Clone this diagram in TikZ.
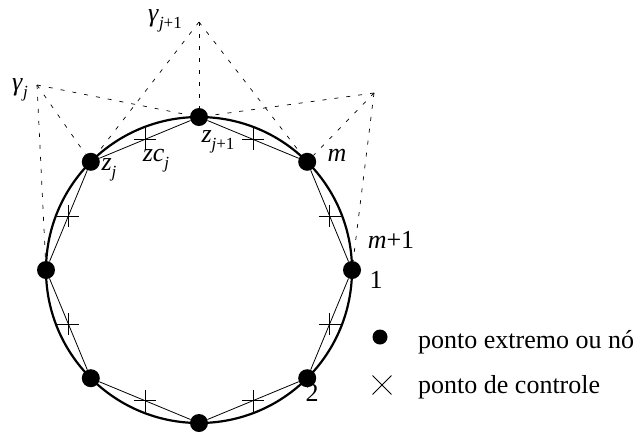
\documentclass[tikz,border=0pt]{standalone}
\usepackage{fontspec}
\setmainfont{LiberationSerif}[Extension=.ttf,UprightFont=*-Regular,ItalicFont=*-Italic,BoldFont=*-Bold,BoldItalicFont=*-BoldItalic]
\usetikzlibrary{calc,shapes.misc}
\newcommand\lsub[1]{\raisebox{-0.28em}{\fontsize{17}{17}\selectfont #1}}
\begin{document}
\begin{tikzpicture}[x=1pt,y=-1pt,
  nd/.style={circle,fill=black,inner sep=0pt,minimum size=18pt},
  chord/.style={line width=0.8pt},
  ctrl/.style={line width=0.7pt,dash pattern=on 4pt off 8pt},
  lab/.style={inner sep=0pt,font=\fontsize{26}{30}\selectfont},
  plusmark/.pic={\draw[line width=0.8pt] (-11,0)--(11,0) (0,-11)--(0,11);}
]
\useasboundingbox (0,0) rectangle (637,432);
\coordinate (c) at (199,270);
\draw[line width=2.2pt] (c) circle[radius=153];
% nodes
\node[nd] (n1) at (352,270) {};
\node[nd] (n2) at (307.2,378.2) {};
\node[nd] (n3) at (199,423) {};
\node[nd] (n4) at (90.8,378.2) {};
\node[nd] (n5) at (46,270) {};
\node[nd] (n6) at (90.8,161.8) {};
\node[nd] (n7) at (199,117) {};
\node[nd] (n8) at (307.2,161.8) {};
% chords and control marks
\foreach \i/\j in {1/2,2/3,3/4,4/5,5/6,6/7,7/8,8/1}{
  \draw[chord] (n\i) -- (n\j);
  \pic at ($(n\i)!0.5!(n\j)$) {plusmark};
}
% control polygon apexes
\coordinate (g1) at (37,85);
\coordinate (g2) at (199,22);
\coordinate (g3) at (374,93);
\draw[ctrl] (g1) -- (n5);
\draw[ctrl] (g1) -- (n6);
\draw[ctrl] (g1) -- (n7);
\draw[ctrl] (g2) -- (n6);
\draw[ctrl] (g2) -- (n7);
\draw[ctrl] (g2) -- (n8);
\draw[ctrl] (g3) -- (n7);
\draw[ctrl] (g3) -- (n8);
\draw[ctrl] (g3) -- (n1);
% labels
\node[lab] (lg2) at (165,21) {\textit{γ}\lsub{\textit{j}+1}};
\node[lab] (lg1) at (20,90) {\textit{γ}\lsub{\textit{j}}};
\node[lab] (lz) at (109,170) {\textit{z}\lsub{\textit{j}}};
\node[lab] (lzc) at (156,161) {\textit{zc}\lsub{\textit{j}}};
\node[lab] (lz1) at (218,142) {\textit{z}\lsub{\textit{j}+1}};
\node[lab] (lm) at (337,155) {\textit{m}};
\node[lab] (lm1) at (391,240) {\textit{m}+1};
\node[lab] (l1) at (376,280) {1};
\node[lab] (l2) at (312,393) {2};
% legend
\node[circle,fill=black,inner sep=0pt,minimum size=15pt] (lb) at (380,337) {};
\node[lab,anchor=base west] (lt1) at (418,348) {ponto extremo ou nó};
\node[draw,cross out,inner sep=0pt,minimum size=18pt,line width=0.9pt] (lx) at (382,385) {};
\node[lab,anchor=base west] (lt2) at (418,393) {ponto de controle};
\end{tikzpicture}
\end{document}
